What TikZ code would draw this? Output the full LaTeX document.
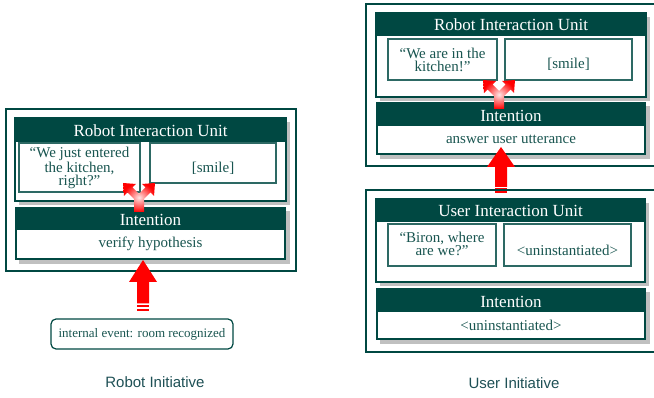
\documentclass[tikz,border=0pt]{standalone}
\usepackage{fontspec}
\setmainfont{Liberation Serif}
\setsansfont{Liberation Sans}
\usetikzlibrary{fit}

\definecolor{tealdark}{RGB}{0,72,66}
\definecolor{tealtext}{RGB}{25,85,80}
\definecolor{tealline}{RGB}{45,105,100}
\definecolor{shadowgray}{RGB}{192,192,192}
\definecolor{arrowred}{RGB}{255,0,0}
\definecolor{labelcol}{RGB}{30,80,85}

% a white panel with a dark title bar and a drop shadow
% #1 name, #2 x1, #3 y1, #4 x2, #5 y2, #6 bottom of the title bar
\newcommand\unitpanel[6]{%
  \fill[boxshadow] (#2+4,#3+4) rectangle (#4+4,#5+4);
  \node[unitframe, fit={(#2,#3) (#4,#5)}] (#1) {};
  \fill[tealdark] (#2,#3) rectangle (#4,#6);
}
% a dark panel with a white text field below the title
\newcommand\intentpanel[6]{%
  \fill[boxshadow] (#2+4,#3+4) rectangle (#4+4,#5+4);
  \node[fill=tealdark, inner sep=0pt, fit={(#2,#3) (#4,#5)}] (#1) {};
  \fill[white] (#2+2,#6) rectangle (#4-2,#5-2);
}
% fork-shaped double arrow, origin at the top centre
\newcommand\forkarrow[1]{%
  \begin{scope}[shift={(#1)}]
    \shade[forkshade] (-5,29) -- (-5,16) -- (-11.5,9.5) -- (-15,13) -- (-16,0)
      -- (-3,1) -- (-6.5,4.5) -- (0,11) -- (6.5,4.5) -- (3,1) -- (16,0)
      -- (15,13) -- (11.5,9.5) -- (5,16) -- (5,29) -- cycle;
  \end{scope}
}

\begin{document}
\begin{tikzpicture}[x=1pt, y=-1pt,
  outerframe/.style={draw=tealdark, line width=2pt, inner sep=0pt},
  unitframe/.style={draw=tealdark, line width=1.5pt, fill=white, inner sep=0pt},
  subframe/.style={draw=tealline, line width=1.2pt, fill=white, inner sep=0pt},
  boxshadow/.style={fill=shadowgray},
  headtitle/.style={text=white, font=\fontsize{17}{20}\selectfont, inner sep=0pt},
  bodytext/.style={text=tealtext, font=\fontsize{15}{18}\selectfont, inner sep=0pt},
  subtext/.style={text=tealtext, font=\fontsize{15}{13}\selectfont, align=center, inner sep=0pt},
  eventbox/.style={draw=tealdark, line width=1.2pt, rounded corners=5pt, text=tealtext,
    font=\fontsize{13}{15}\selectfont, minimum width=182pt, minimum height=30pt, inner sep=0pt},
  sidelabel/.style={font=\sffamily\fontsize{15}{18}\selectfont, text=labelcol, inner sep=0pt},
  bigarrow/.style={fill=arrowred},
  forkshade/.style={inner color=red!10!white, outer color=arrowred}]
\useasboundingbox (0,0) rectangle (654,398);

% ---------- robot initiative ----------
\node[outerframe, fit={(6,109) (296,271)}] (initL) {};

\unitpanel{riuL}{15}{118}{286}{201}{142}
\node[headtitle] (riuLtitle) at (150.5,131) {Robot Interaction Unit};
\node[subframe, fit={(19,143) (140,192)}] (sayL) {};
\node[subtext] (sayLtext) at (79.5,168) {“We just entered\\the kitchen,\\right?”};
\node[subframe, fit={(150,143) (276,183)}] (faceL) {};
\node[bodytext] (faceLtext) at (213,168) {[smile]};

\intentpanel{intL}{15}{207}{286}{260}{230}
\node[headtitle] (intLtitle) at (150.5,219.5) {Intention};
\node[bodytext] (intLtext) at (150.5,244) {verify hypothesis};

\coordinate (forkL) at (139,183);
\forkarrow{forkL}

% ---------- user initiative, upper frame ----------
\node[outerframe, fit={(366,4) (662,166)}] (initR) {};

\unitpanel{riuR}{376}{13}{646}{97}{36}
\node[headtitle] (riuRtitle) at (511,25) {Robot Interaction Unit};
\node[subframe, fit={(388,39) (497,80)}] (sayR) {};
\node[subtext] (sayRtext) at (442.5,60) {“We are in the\\kitchen!”};
\node[subframe, fit={(505,39) (632,80)}] (faceR) {};
\node[bodytext] (faceRtext) at (568.5,64) {[smile]};

\intentpanel{intR}{376}{102}{646}{155}{126}
\node[headtitle] (intRtitle) at (511,115.5) {Intention};
\node[bodytext] (intRtext) at (511,139) {answer user utterance};

\coordinate (forkR) at (499,80);
\forkarrow{forkR}

% ---------- thick red arrows ----------
\coordinate (tipL) at (143,260);
\begin{scope}[shift={(tipL)}]
  \fill[bigarrow] (0,0) -- (14,22) -- (6,22) -- (6,43.5) -- (-6,43.5) -- (-6,22) -- (-14,22) -- cycle;
  \fill[bigarrow] (-6,45) rectangle (6,47);
  \fill[bigarrow] (-6,49) rectangle (6,51.5);
\end{scope}

\coordinate (tipR) at (501,147);
\begin{scope}[shift={(tipR)}]
  \fill[bigarrow] (0,0) -- (14,20) -- (6,20) -- (6,40) -- (-6,40) -- (-6,20) -- (-14,20) -- cycle;
  \fill[bigarrow] (-6,41.5) rectangle (6,43.5);
  \fill[bigarrow] (-6,44.5) rectangle (6,46.5);
\end{scope}

% ---------- user initiative, lower frame ----------
\node[outerframe, fit={(366,190) (662,352)}] (initU) {};

\unitpanel{uiu}{376}{199}{645}{282}{222}
\node[headtitle] (uiutitle) at (510.5,211) {User Interaction Unit};
\node[subframe, fit={(388,224) (496,266)}] (sayU) {};
\node[subtext] (sayUtext) at (442,244) {“Biron, where\\are we?”};
\node[subframe, fit={(504,224) (631,266)}] (faceU) {};
\node[bodytext] (faceUtext) at (567.5,250) {<uninstantiated>};

\intentpanel{intU}{376}{288}{646}{340}{312}
\node[headtitle] (intUtitle) at (511,301.5) {Intention};
\node[bodytext] (intUtext) at (511,325) {<uninstantiated>};

% ---------- event and captions ----------
\node[eventbox] (eventL) at (142,334) {internal event: room recognized};
\node[sidelabel] (lblL) at (155,382) {Robot Initiative};
\node[sidelabel] (lblR) at (514,383) {User Initiative};
\end{tikzpicture}
\end{document}
